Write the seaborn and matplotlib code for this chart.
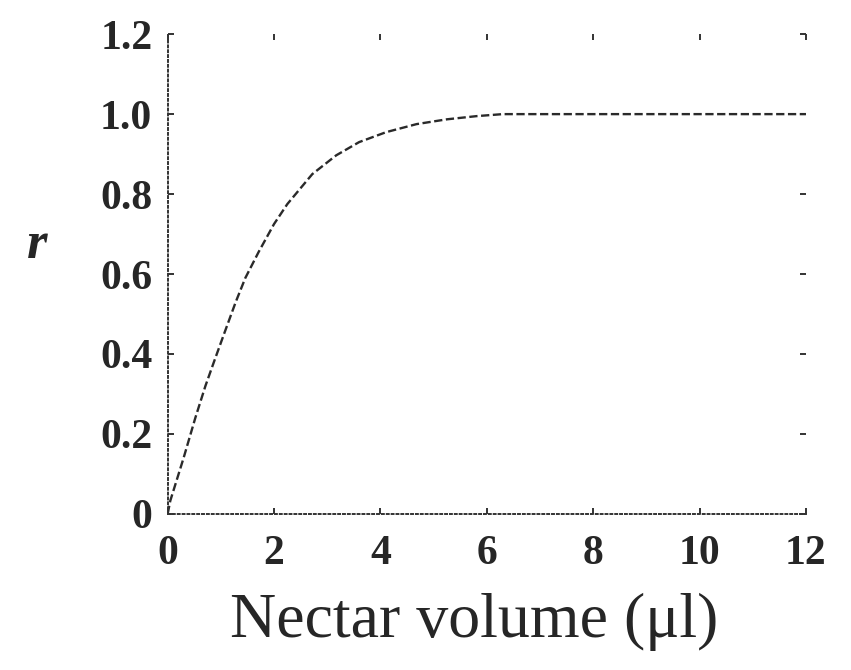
import matplotlib
matplotlib.use("Agg")
import matplotlib.pyplot as plt
import seaborn as sns
import pandas as pd

volume = [0.0, 0.05, 0.30, 0.52, 0.71, 0.87, 1.06, 1.28, 1.46, 1.71, 2.0, 2.25,
          2.72, 3.17, 3.60, 4.11, 4.68, 5.25, 5.81, 6.3, 7.0, 8.0, 9.0, 10.0,
          11.0, 12.0]
r_vals = [0.0, 0.033, 0.14, 0.24, 0.32, 0.38, 0.45, 0.53, 0.59, 0.655, 0.725, 0.775,
          0.85, 0.897, 0.93, 0.955, 0.975, 0.987, 0.995, 1.0, 1.0, 1.0, 1.0, 1.0,
          1.0, 1.0]
x_ticks = [0, 2, 4, 6, 8, 10, 12]
y_ticks = [0, 0.2, 0.4, 0.6, 0.8, 1.0, 1.2]
y_ticklabels = ["0", "0.2", "0.4", "0.6", "0.8", "1.0", "1.2"]

df = pd.DataFrame({"volume": volume, "r": r_vals})

sns.set_style("white")
plt.rcParams["font.family"] = ["Liberation Serif", "DejaVu Serif"]

fig = plt.figure(figsize=(8.51, 6.70), dpi=100)
ax = fig.add_axes([0.197, 0.233, 0.75, 0.716])

sns.lineplot(data=df, x="volume", y="r", ax=ax, color="#2a2a2a",
             linewidth=1.7, linestyle=(0, (3.5, 1.5)))

ax.set_xlim(0, 12)
ax.set_ylim(0, 1.2)
ax.set_xticks(x_ticks)
ax.set_xticklabels([str(t) for t in x_ticks], fontsize=30, fontweight="bold")
ax.set_yticks(y_ticks)
ax.set_yticklabels(y_ticklabels, fontsize=30, fontweight="bold")

for s in ["top", "right"]:
    ax.spines[s].set_visible(False)
for s in ["left", "bottom"]:
    ax.spines[s].set_linestyle((0, (1, 1.5)))
    ax.spines[s].set_linewidth(1.4)
    ax.spines[s].set_color("#333333")

ax.tick_params(direction="in", length=4, width=1.4, color="#333333",
               top=True, right=True, bottom=True, left=True)
ax.tick_params(axis="x", pad=15)
ax.tick_params(axis="y", pad=11)

ax.set_xlabel("Nectar volume (μl)", fontsize=46)
ax.xaxis.set_label_coords(0.48, -0.165)
ax.set_ylabel("r", fontsize=38, fontweight="bold", fontstyle="italic",
              rotation=0, va="center", ha="center")
ax.yaxis.set_label_coords(-0.205, 0.56)

fig.savefig("out.png", dpi=100)
